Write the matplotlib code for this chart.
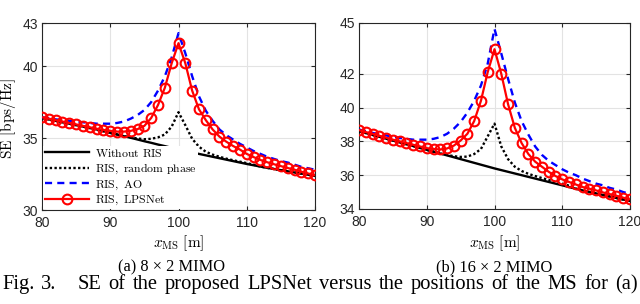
import matplotlib
matplotlib.use("Agg")
import matplotlib.pyplot as plt
import numpy as np

plt.rcParams['font.family'] = ['Liberation Sans', 'DejaVu Sans']
plt.rcParams['mathtext.fontset'] = 'cm'

x_ms = list(range(80, 121))

# (a) 8 x 2 MIMO
without_a = [36.40, 36.30, 36.20, 36.10, 36.00, 35.90, 35.80, 35.70, 35.60, 35.48,
             35.36, 35.25, 35.13, 35.02, 34.90, 34.78, 34.67, 34.55, 34.44, 34.32,
             34.20, 34.10, 34.00, 33.90, 33.80, 33.70, 33.60, 33.50, 33.40, 33.30,
             33.20, 33.11, 33.02, 32.93, 32.85, 32.77, 32.69, 32.61, 32.53, 32.45, 32.37]
random_a = [36.40, 36.30, 36.20, 36.10, 36.00, 35.90, 35.80, 35.70, 35.60, 35.48,
            35.36, 35.25, 35.13, 35.05, 34.97, 34.92, 34.95, 35.05, 35.25, 35.80,
            36.80, 35.90, 34.95, 34.40, 34.05, 33.85, 33.70, 33.57, 33.46, 33.36,
            33.26, 33.15, 33.02, 32.93, 32.85, 32.77, 32.69, 32.61, 32.53, 32.45, 32.37]
ao_a = [36.45, 36.38, 36.30, 36.25, 36.20, 36.15, 36.10, 36.05, 36.00, 36.00,
        36.00, 36.05, 36.15, 36.35, 36.60, 36.95, 37.50, 38.30, 39.30, 40.60,
        42.30, 40.90, 39.30, 37.90, 36.90, 36.20, 35.60, 35.20, 34.90, 34.60,
        34.35, 34.10, 33.90, 33.70, 33.55, 33.40, 33.30, 33.15, 33.00, 32.90, 32.80]
lps_a = [36.45, 36.35, 36.25, 36.15, 36.05, 35.95, 35.85, 35.75, 35.65, 35.57,
         35.50, 35.45, 35.45, 35.50, 35.62, 35.85, 36.40, 37.30, 38.50, 40.20,
         41.60, 40.20, 38.30, 37.00, 36.25, 35.60, 35.10, 34.75, 34.45, 34.20,
         33.90, 33.68, 33.48, 33.32, 33.18, 33.05, 32.92, 32.80, 32.66, 32.54, 32.42]

# (b) 16 x 2 MIMO
without_b = [38.60, 38.49, 38.38, 38.27, 38.16, 38.05, 37.94, 37.83, 37.72, 37.61,
             37.50, 37.39, 37.28, 37.17, 37.06, 36.95, 36.84, 36.73, 36.62, 36.51,
             36.40, 36.30, 36.20, 36.10, 36.00, 35.90, 35.80, 35.70, 35.60, 35.50,
             35.40, 35.30, 35.20, 35.10, 35.01, 34.92, 34.83, 34.74, 34.65, 34.56, 34.47]
random_b = [38.60, 38.49, 38.38, 38.27, 38.16, 38.05, 37.94, 37.83, 37.72, 37.61,
            37.50, 37.39, 37.28, 37.20, 37.12, 37.08, 37.10, 37.25, 37.55, 38.30,
            39.05, 37.70, 36.95, 36.50, 36.25, 36.08, 35.95, 35.83, 35.72, 35.60,
            35.50, 35.38, 35.20, 35.10, 35.01, 34.92, 34.83, 34.74, 34.65, 34.56, 34.47]
ao_b = [38.70, 38.60, 38.50, 38.42, 38.35, 38.28, 38.20, 38.15, 38.10, 38.10,
        38.10, 38.15, 38.25, 38.45, 38.75, 39.15, 39.70, 40.40, 41.30, 42.60,
        44.65, 43.20, 41.70, 40.30, 39.20, 38.40, 37.70, 37.20, 36.85, 36.60,
        36.35, 36.15, 36.00, 35.80, 35.65, 35.50, 35.40, 35.25, 35.15, 35.00, 34.90]
lps_b = [38.67, 38.55, 38.45, 38.33, 38.22, 38.10, 38.00, 37.90, 37.80, 37.70,
         37.60, 37.55, 37.52, 37.58, 37.75, 38.05, 38.45, 39.20, 40.40, 42.10,
         43.45, 42.00, 40.20, 38.80, 37.90, 37.25, 36.80, 36.50, 36.20, 35.95,
         35.75, 35.60, 35.45, 35.30, 35.20, 35.10, 34.98, 34.88, 34.78, 34.67, 34.57]

labels = [r'$\mathrm{Without\ RIS}$', r'$\mathrm{RIS,\ random\ phase}$',
          r'$\mathrm{RIS,\ AO}$', r'$\mathrm{RIS,\ LPSNet}$']
xticks = [80, 90, 100, 110, 120]
yticks_a = [30, 35, 40, 43]
yticks_b = [34, 36, 38, 40, 42, 45]
caption_words = ['Fig.', '3.', 'SE', 'of', 'the', 'proposed', 'LPSNet', 'versus',
                 'the', 'positions', 'of', 'the', 'MS', 'for', '(a)']

W, H = 640, 304
fig = plt.figure(figsize=(W / 100, H / 100), dpi=100)

def px_axes(l, r, t, b):
    return fig.add_axes([l / W, 1 - b / H, (r - l) / W, (b - t) / H])

ax_a = px_axes(42, 315, 23, 210)
ax_b = px_axes(359, 630, 23, 209)

def draw(ax, wo, rp, ao, lps, yticks):
    ax.plot(x_ms, wo, color='black', lw=1.7, label=labels[0], zorder=3)
    ax.plot(x_ms, rp, color='black', lw=1.7, linestyle=(0, (1, 1)), label=labels[1], zorder=3)
    ax.plot(x_ms, ao, color='#0000ff', lw=1.7, linestyle=(0, (3, 2.2)), label=labels[2], zorder=4)
    ax.plot(x_ms, lps, color='#ff0000', lw=1.6, marker='o', markersize=7,
            markerfacecolor='none', markeredgewidth=1.5, label=labels[3], zorder=5)
    ax.set_xlim(80, 120)
    ax.set_ylim(yticks[0], yticks[-1])
    ax.set_xticks(xticks)
    ax.set_yticks(yticks)
    ax.grid(True, color='#e3e3e3', lw=0.8)
    ax.set_axisbelow(True)
    for s in ax.spines.values():
        s.set_color('#262626')
        s.set_linewidth(0.8)
    ax.tick_params(direction='in', top=True, right=True, length=3, width=0.8,
                   color='#262626', labelsize=10, labelcolor='#262626')
    ax.tick_params(axis='x', pad=4)
    ax.tick_params(axis='y', pad=3)
    ax.set_xlabel(r'$x_{\mathrm{MS}}\ [\mathrm{m}]$', fontsize=11, va='center')

draw(ax_a, without_a, random_a, ao_a, lps_a, yticks_a)
draw(ax_b, without_b, random_b, ao_b, lps_b, yticks_b)

ax_a.xaxis.set_label_coords(0.5, (210 - 243) / 187)
ax_b.xaxis.set_label_coords(0.5, (209 - 243) / 186)
ax_a.set_ylabel(r'$\mathrm{SE\ [bps/Hz]}$', fontsize=11, va='center')
ax_a.yaxis.set_label_coords((8 - 42) / 273, 0.49)

leg = ax_a.legend(loc='lower left', fontsize=8.5, frameon=True, fancybox=False,
                  borderaxespad=0.1, borderpad=0.15, handlelength=3.7,
                  handletextpad=0.5, labelspacing=0.18)
leg.get_frame().set_facecolor('white')
leg.get_frame().set_edgecolor('none')
leg.get_frame().set_alpha(1)
leg.set_zorder(10)

fig.text(172 / W, 1 - 271.5 / H, '(a) 8 × 2 MIMO', family='Liberation Serif',
         fontsize=11.8, ha='center', va='baseline')
fig.text(494 / W, 1 - 271.5 / H, '(b) 16 × 2 MIMO', family='Liberation Serif',
         fontsize=11.8, ha='center', va='baseline')

# caption line, justified between x=2 and x=640 px
fig.canvas.draw()
renderer = fig.canvas.get_renderer()
cap_fs = 14.8
widths = []
arts = []
for w in caption_words:
    t = fig.text(0, 1 - 289 / H, w, family='Liberation Serif', fontsize=cap_fs,
                 ha='left', va='baseline')
    widths.append(t.get_window_extent(renderer).width)
    arts.append(t)
total = sum(widths)
gaps = len(caption_words) - 1
extra_first = 2.0  # wider gap after "Fig. 3."
unit = (638 - 2 - total) / (gaps + extra_first)
xpos = 2.0
for i, (t, wdt) in enumerate(zip(arts, widths)):
    t.set_x(xpos / W)
    g = unit * (1 + extra_first) if i == 1 else unit
    xpos += wdt + g

fig.savefig('out.png', dpi=100)
